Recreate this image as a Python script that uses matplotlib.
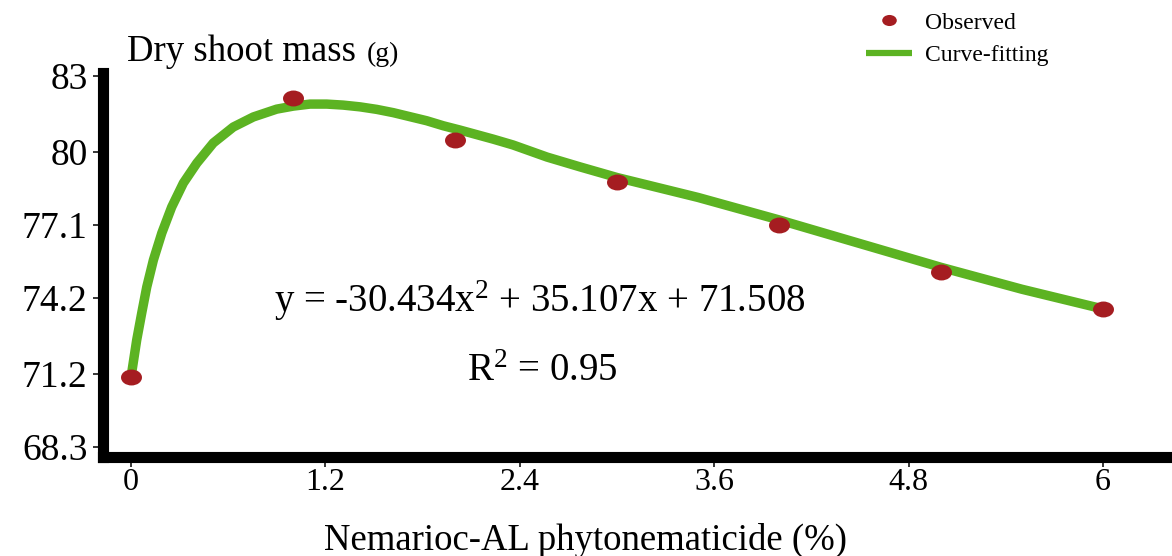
import numpy as np
import matplotlib
matplotlib.use("Agg")
import matplotlib.pyplot as plt
from matplotlib.path import Path

plt.rcParams["font.family"] = ["Liberation Serif", "DejaVu Serif"]
plt.rcParams["mathtext.fontset"] = "custom"
plt.rcParams["mathtext.rm"] = "Liberation Serif"
plt.rcParams["mathtext.it"] = "Liberation Serif:italic"
plt.rcParams["mathtext.default"] = "rm"

# Observed dry shoot mass per concentration
conc = [0, 1, 2, 3, 4, 5, 6]
observed = [71.07, 82.13, 80.46, 78.80, 77.10, 75.23, 73.77]

# Fitted response curve
fit_x = [0.0, 0.035, 0.066, 0.097, 0.138, 0.190, 0.251, 0.323, 0.406, 0.508,
         0.631, 0.755, 0.899, 1.002, 1.105, 1.208, 1.310, 1.414, 1.517, 1.619,
         1.722, 1.825, 1.928, 2.031, 2.236, 2.358, 2.568, 2.772, 3.0, 3.5,
         4.0, 4.5, 5.0, 5.5, 6.0]
fit_y = [71.07, 72.54, 73.61, 74.64, 75.71, 76.78, 77.81, 78.76, 79.55, 80.35,
         80.98, 81.38, 81.69, 81.81, 81.89, 81.89, 81.85, 81.78, 81.68, 81.55,
         81.39, 81.23, 81.03, 80.86, 80.50, 80.27, 79.79, 79.40, 78.98, 78.19,
         77.30, 76.36, 75.42, 74.55, 73.77]

xticks = [0, 1.2, 2.4, 3.6, 4.8, 6]
xtick_labels = ["0", "1.2", "2.4", "3.6", "4.8", "6"]
yticks = [68.3, 71.2, 74.2, 77.1, 80, 83]
ytick_labels = ["68.3", "71.2", "74.2", "77.1", "80", "83"]

equation = "y = -30.434x$^{2}$ + 35.107x + 71.508"
r_squared = "R$^{2}$ = 0.95"

green = "#5cb322"
red = "#a51d21"

fig = plt.figure(figsize=(11.72, 5.56), dpi=100)
ax = fig.add_axes([0.0879, 0.178, 0.9121, 0.6906])

line, = ax.plot(fit_x, fit_y, color=green, lw=6.8, solid_capstyle="butt",
                solid_joinstyle="round", zorder=2, label="Curve-fitting")

circ = Path.unit_circle()
ellipse = Path(circ.vertices * [1.0, 0.76], circ.codes)
dots, = ax.plot(conc, observed, ls="none", marker=ellipse, markersize=15.1,
                color=red, markeredgewidth=0, zorder=3, label="Observed")

ax.set_xlim(-0.173, 6.426)
ax.set_ylim(67.90, 83.12)

ax.set_xticks(xticks)
ax.set_xticklabels(xtick_labels)
ax.set_yticks(yticks)
ax.set_yticklabels(ytick_labels)
ax.tick_params(axis="both", direction="out", length=7, width=1.1)
ax.tick_params(axis="y", pad=4, labelsize=27)
ax.tick_params(axis="x", pad=1, labelsize=23)

for side in ["top", "right"]:
    ax.spines[side].set_visible(False)
for side in ["left", "bottom"]:
    ax.spines[side].set_linewidth(8)
    ax.spines[side].set_capstyle("projecting")

ax.set_xlabel("Nemarioc-AL phytonematicide (%)", fontsize=26.5)
ax.xaxis.set_label_coords((585 - 103) / 1069, -0.218)
ax.xaxis.label.set_va("center")

ax.text(2.52, 74.08, equation, fontsize=28, ha="center", va="center")
ax.text(2.54, 71.30, r_squared, fontsize=28, ha="center", va="center")

# title with a smaller unit right after it, on the same baseline
title_y = 1 - 61 / 556
title = fig.text(127 / 1172, title_y, "Dry shoot mass", fontsize=26.5,
                 va="baseline", ha="left")
fig.canvas.draw()
tb = title.get_window_extent().transformed(fig.transFigure.inverted())
fig.text(tb.x1 + 11 / 1172, title_y, "(g)", fontsize=20,
         va="baseline", ha="left")

leg = ax.legend(handles=[dots, line], loc="upper left",
                bbox_to_anchor=(866 / 1172, 1 - 12 / 556),
                bbox_transform=fig.transFigure, frameon=False, fontsize=17,
                handlelength=1.95, handletextpad=0.55, labelspacing=0.48,
                borderpad=0, borderaxespad=0)
leg.legend_handles[0].set_markersize(10.5)
leg.legend_handles[1].set_linewidth(4.5)

fig.savefig("out.png", dpi=100)
